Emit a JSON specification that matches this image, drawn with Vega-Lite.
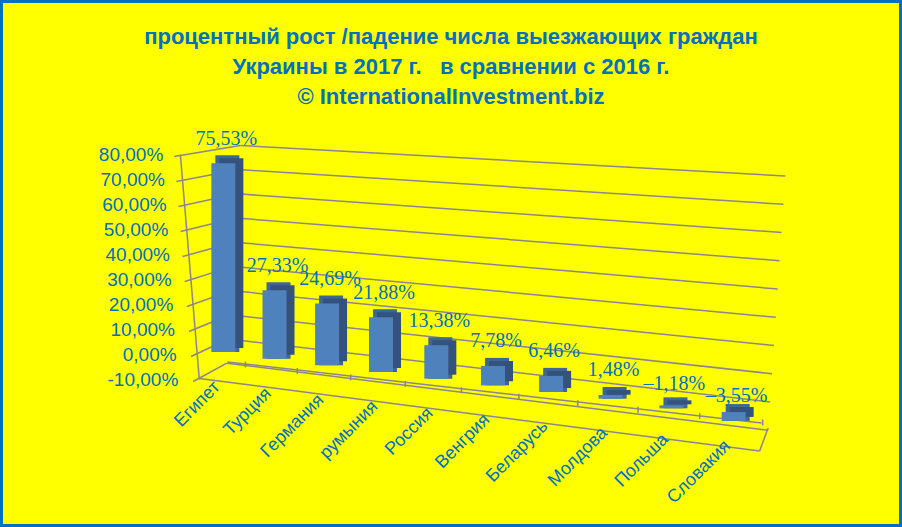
{"$schema":"https://vega.github.io/schema/vega-lite/v6.json","width":902,"height":527,"autosize":"none","padding":0,"background":"#ffff00","view":{"stroke":"#0070c0","strokeWidth":6,"fill":"#ffff00"},"title":{"text":["процентный рост /падение числа выезжающих граждан","Украины в 2017 г.\u00a0\u00a0\u00a0в сравнении с 2016 г.","© InternationalInvestment.biz"],"font":"Liberation Sans","fontSize":22,"fontWeight":"bold","color":"#0070c0","lineHeight":30,"anchor":"middle","frame":"group","baseline":"top","offset":-109},"datasets":{"bars":[{"country":"Египет","value":75.53,"label":"75,53%"},{"country":"Турция","value":27.33,"label":"27,33%"},{"country":"Германия","value":24.69,"label":"24,69%"},{"country":"румыния","value":21.88,"label":"21,88%"},{"country":"Россия","value":13.38,"label":"13,38%"},{"country":"Венгрия","value":7.78,"label":"7,78%"},{"country":"Беларусь","value":6.46,"label":"6,46%"},{"country":"Молдова","value":1.48,"label":"1,48%"},{"country":"Польша","value":-1.18,"label":"–1,18%"},{"country":"Словакия","value":-3.55,"label":"–3,55%"}],"grid":[{"value":80,"label":"80,00%"},{"value":70,"label":"70,00%"},{"value":60,"label":"60,00%"},{"value":50,"label":"50,00%"},{"value":40,"label":"40,00%"},{"value":30,"label":"30,00%"},{"value":20,"label":"20,00%"},{"value":10,"label":"10,00%"},{"value":0,"label":"0,00%"},{"value":-10,"label":"-10,00%"}]},"layer":[{"data":{"name":"grid"},"mark":{"type":"rule","color":"#8c8590","strokeWidth":1.5,"xOffset":{"expr":"-32.3-0.21*datum.value"},"yOffset":2,"x2Offset":{"expr":"5+0.15*datum.value"},"y2Offset":{"expr":"-15.5+0.08*datum.value"}},"encoding":{"x":{"datum":"Египет","type":"nominal","axis":null,"scale":{"domain":["Египет","Турция","Германия","румыния","Россия","Венгрия","Беларусь","Молдова","Польша","Словакия"],"range":[195,762],"padding":0}},"x2":{"datum":"Египет"},"y":{"field":"value","type":"quantitative","axis":null,"scale":{"domain":[-10,80],"range":[379.5,154.5],"nice":false,"zero":false}},"y2":{"field":"value"}}},{"data":{"name":"grid"},"mark":{"type":"rule","color":"#8c8590","strokeWidth":1.5,"xOffset":{"expr":"5+0.15*datum.value"},"yOffset":{"expr":"-15.5+0.08*datum.value"},"x2Offset":{"expr":"36.5+0.19*datum.value"},"y2Offset":{"expr":"47.5-0.325*datum.value"}},"encoding":{"x":{"datum":"Египет","type":"nominal"},"x2":{"datum":"Словакия"},"y":{"field":"value","type":"quantitative"},"y2":{"field":"value"}}},{"data":{"values":[{"edge":"left axis"}]},"mark":{"type":"rule","color":"#8c8590","strokeWidth":1.5,"xOffset":-43,"x2Offset":-24},"encoding":{"x":{"datum":"Египет","type":"nominal"},"x2":{"datum":"Египет"},"y":{"datum":80,"type":"quantitative"},"y2":{"datum":-10}}},{"data":{"values":[{"edge":"tick line"}]},"mark":{"type":"rule","color":"#8c8590","strokeWidth":1.5,"xOffset":4,"x2Offset":28,"yOffset":-17.5,"y2Offset":43.5},"encoding":{"x":{"datum":"Египет","type":"nominal"},"x2":{"datum":"Словакия"},"y":{"datum":-10,"type":"quantitative"},"y2":{"datum":-10}}},{"data":{"values":[{"edge":"floor front"}]},"mark":{"type":"rule","color":"#8c8590","strokeWidth":1.5,"xOffset":-24,"x2Offset":26,"yOffset":-1,"y2Offset":71.5},"encoding":{"x":{"datum":"Египет","type":"nominal"},"x2":{"datum":"Словакия"},"y":{"datum":-10,"type":"quantitative"},"y2":{"datum":-10}}},{"data":{"values":[{"edge":"floor right"}]},"mark":{"type":"rule","color":"#8c8590","strokeWidth":1.5,"xOffset":26,"x2Offset":34.5,"yOffset":71.5,"y2Offset":48.5},"encoding":{"x":{"datum":"Словакия","type":"nominal"},"x2":{"datum":"Словакия"},"y":{"datum":-10,"type":"quantitative"},"y2":{"datum":-10}}},{"data":{"name":"bars"},"mark":{"type":"rule","color":"#8c8590","strokeWidth":1.5,"xOffset":{"expr":"22+7*((scale('x',datum.country)-195)/510)-56*((scale('x',datum.country)-195)/510)*(1-(scale('x',datum.country)-195)/510)"},"x2Offset":{"expr":"22+7*((scale('x',datum.country)-195)/510)-56*((scale('x',datum.country)-195)/510)*(1-(scale('x',datum.country)-195)/510)"},"yOffset":{"expr":"-18+58*((scale('x',datum.country)-195)/510)"},"y2Offset":{"expr":"-12+58*((scale('x',datum.country)-195)/510)"}},"encoding":{"x":{"field":"country","type":"nominal"},"x2":{"field":"country"},"y":{"datum":-10,"type":"quantitative"},"y2":{"datum":-10}}},{"data":{"name":"bars"},"mark":{"type":"bar","width":24,"color":"#3f6796","xOffset":{"expr":"4-56*((scale('x',datum.country)-195)/510)*(1-(scale('x',datum.country)-195)/510)"},"yOffset":{"expr":"(datum.value>=0?-8:0)-2.5+60*((scale('x',datum.country)-195)/510)"},"y2Offset":{"expr":"(datum.value>=0?0:-8)-2.5+60*((scale('x',datum.country)-195)/510)"}},"encoding":{"x":{"field":"country","type":"nominal"},"y":{"field":"value","type":"quantitative"},"y2":{"datum":0}}},{"data":{"name":"bars"},"mark":{"type":"bar","width":24,"color":"#34527c","xOffset":{"expr":"8-56*((scale('x',datum.country)-195)/510)*(1-(scale('x',datum.country)-195)/510)"},"yOffset":{"expr":"(datum.value>=0?-5:-4)-2.5+60*((scale('x',datum.country)-195)/510)"},"y2Offset":{"expr":"(datum.value>=0?-4:-5)-2.5+60*((scale('x',datum.country)-195)/510)"}},"encoding":{"x":{"field":"country","type":"nominal"},"y":{"field":"value","type":"quantitative"},"y2":{"datum":0}}},{"data":{"name":"bars"},"mark":{"type":"bar","width":24,"color":"#4f81bd","xOffset":{"expr":"-56*((scale('x',datum.country)-195)/510)*(1-(scale('x',datum.country)-195)/510)"},"yOffset":{"expr":"-2.5+60*((scale('x',datum.country)-195)/510)"},"y2Offset":{"expr":"-2.5+60*((scale('x',datum.country)-195)/510)"}},"encoding":{"x":{"field":"country","type":"nominal"},"y":{"field":"value","type":"quantitative"},"y2":{"datum":0}}},{"data":{"name":"bars"},"mark":{"type":"text","font":"Liberation Serif","fontSize":20,"color":"#0070c0","baseline":"middle","xOffset":{"expr":"3-56*((scale('x',datum.country)-195)/510)*(1-(scale('x',datum.country)-195)/510)"},"yOffset":{"expr":"-27+60*((scale('x',datum.country)-195)/510)"}},"encoding":{"x":{"field":"country","type":"nominal"},"y":{"field":"value","type":"quantitative"},"text":{"field":"label","type":"nominal"}}},{"data":{"name":"bars"},"mark":{"type":"text","font":"Liberation Sans","fontSize":18,"color":"#0070c0","align":"right","baseline":"middle","angle":315,"xOffset":{"expr":"-6-56*((scale('x',datum.country)-195)/510)*(1-(scale('x',datum.country)-195)/510)"},"yOffset":{"expr":"5+59*((scale('x',datum.country)-195)/510)"}},"encoding":{"x":{"field":"country","type":"nominal"},"y":{"datum":-10,"type":"quantitative"},"text":{"field":"country","type":"nominal"}}},{"data":{"name":"grid"},"mark":{"type":"text","font":"Liberation Sans","fontSize":19,"color":"#0070c0","align":"right","baseline":"middle","xOffset":{"expr":"-46.7-0.167*datum.value"}},"encoding":{"x":{"datum":"Египет","type":"nominal"},"y":{"field":"value","type":"quantitative"},"text":{"field":"label","type":"nominal"}}}]}
